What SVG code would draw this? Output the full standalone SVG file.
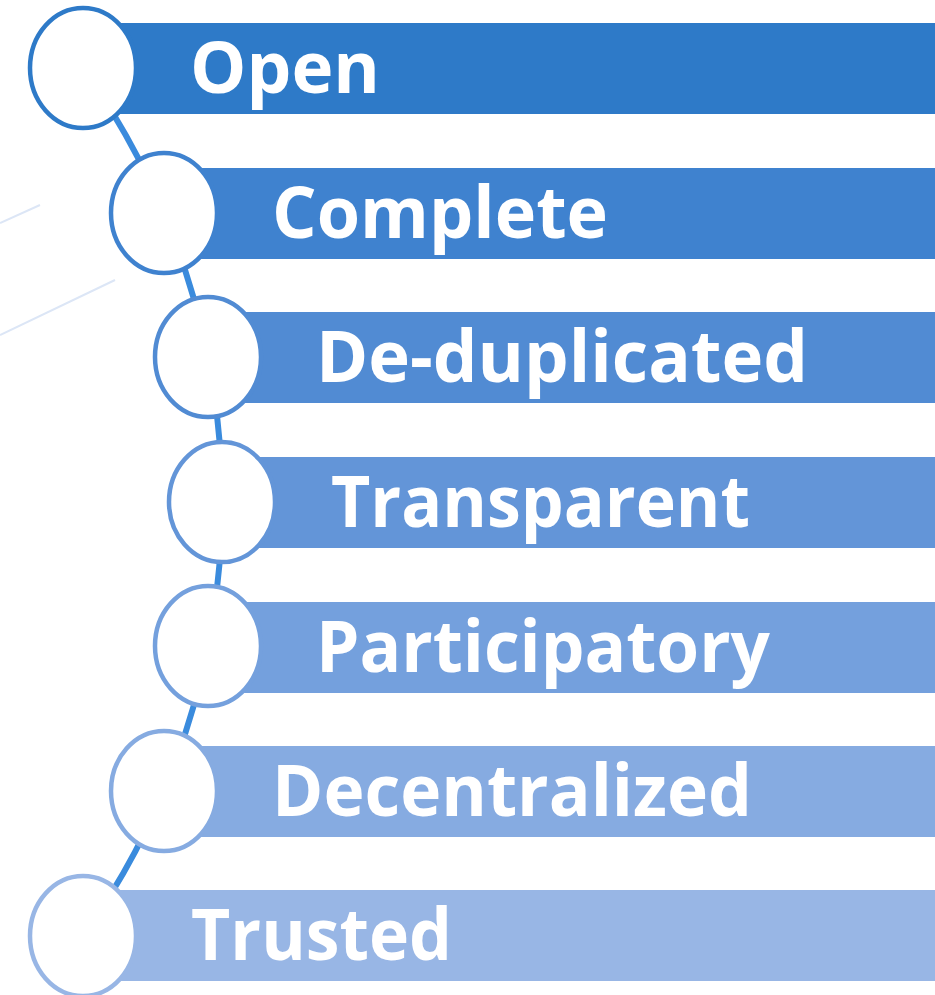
<svg xmlns="http://www.w3.org/2000/svg" width="935" height="995" viewBox="0 0 935 995">
<style>
.deco{stroke:#DCE6F6;stroke-width:2;fill:none}
.conn{stroke:#3A8BDD;stroke-width:6;fill:none}
.node ellipse{fill:#FFFFFF;stroke-width:4.5}
.node text{font-family:"Open Sans","Noto Sans",sans-serif;font-weight:bold;font-size:72px;fill:#FFFFFF}
</style>
<rect width="935" height="995" fill="#FFFFFF"/>
<line class="deco" x1="0" y1="223" x2="40" y2="205"/>
<line class="deco" x1="0" y1="335" x2="115" y2="280"/>
<g id="connectors">
<path class="conn" d="M 83 68 A 747 747 0 0 1 83 936"/>
</g>
<g id="n1" class="node">
<rect x="83" y="23" width="852" height="91" fill="#2E7AC8"/>
<ellipse cx="83" cy="68" rx="53" ry="60" stroke="#2E7AC8"/>
<text x="190" y="93" textLength="190" lengthAdjust="spacingAndGlyphs">Open</text>
</g>
<g id="n2" class="node">
<rect x="164" y="168" width="771" height="91" fill="#3F82CF"/>
<ellipse cx="164" cy="213" rx="53" ry="60" stroke="#3F82CF"/>
<text x="272" y="238" textLength="336" lengthAdjust="spacingAndGlyphs">Complete</text>
</g>
<g id="n3" class="node">
<rect x="208" y="312" width="727" height="91" fill="#518BD3"/>
<ellipse cx="208" cy="357" rx="53" ry="60" stroke="#518BD3"/>
<text x="316" y="382" textLength="492" lengthAdjust="spacingAndGlyphs">De-duplicated</text>
</g>
<g id="n4" class="node">
<rect x="222" y="457" width="713" height="91" fill="#6395D8"/>
<ellipse cx="222" cy="502" rx="53" ry="60" stroke="#6395D8"/>
<text x="331" y="527" textLength="419" lengthAdjust="spacingAndGlyphs">Transparent</text>
</g>
<g id="n5" class="node">
<rect x="208" y="602" width="727" height="91" fill="#74A0DD"/>
<ellipse cx="208" cy="646" rx="53" ry="60" stroke="#74A0DD"/>
<text x="316" y="672" textLength="454" lengthAdjust="spacingAndGlyphs">Participatory</text>
</g>
<g id="n6" class="node">
<rect x="164" y="746" width="771" height="91" fill="#86ABE1"/>
<ellipse cx="164" cy="791" rx="53" ry="60" stroke="#86ABE1"/>
<text x="272" y="816" textLength="480" lengthAdjust="spacingAndGlyphs">Decentralized</text>
</g>
<g id="n7" class="node">
<rect x="83" y="890" width="852" height="91" fill="#98B6E5"/>
<ellipse cx="83" cy="936" rx="53" ry="60" stroke="#98B6E5"/>
<text x="191" y="960" textLength="261" lengthAdjust="spacingAndGlyphs">Trusted</text>
</g>
</svg>
